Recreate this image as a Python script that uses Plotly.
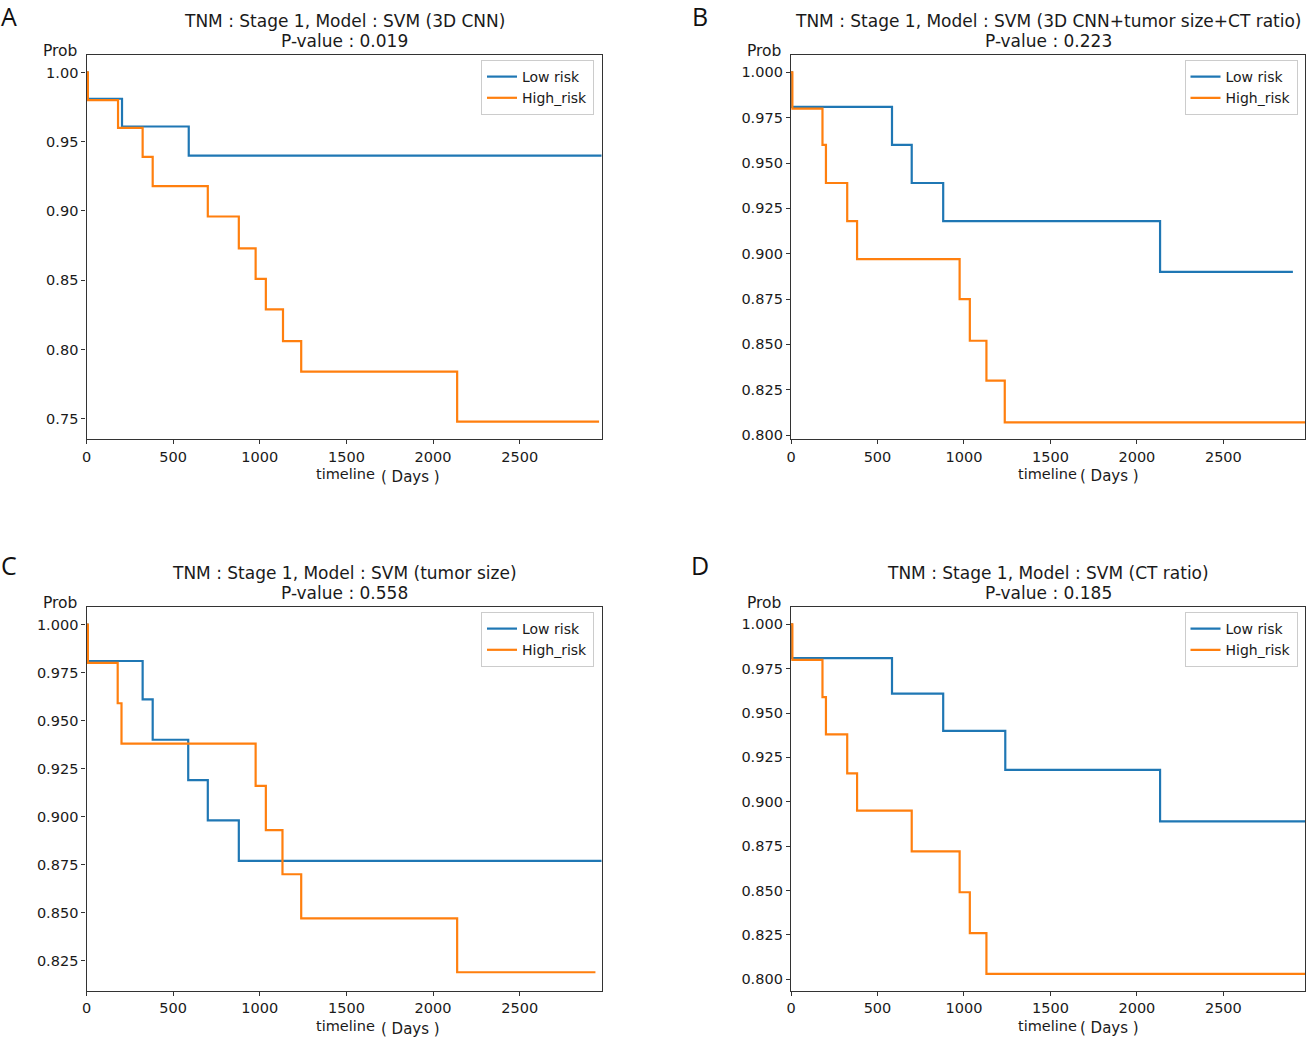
import plotly.graph_objects as go

W, H = 1307, 1038

# ---------------- data ----------------
titles = [
    "TNM : Stage 1, Model : SVM (3D CNN)",
    "TNM : Stage 1, Model : SVM (3D CNN+tumor size+CT ratio)",
    "TNM : Stage 1, Model : SVM (tumor size)",
    "TNM : Stage 1, Model : SVM (CT ratio)",
]
pvalues = ["0.019", "0.223", "0.558", "0.185"]
panel_letters = ["A", "B", "C", "D"]
series_names = ["Low risk", "High_risk"]

# Panel A
a_low_t = [0, 5, 205, 590, 2975]
a_low_s = [1.0, 0.981, 0.961, 0.940, 0.940]
a_high_t = [0, 8, 182, 324, 382, 700, 879, 976, 1035, 1134, 1239, 2139, 2958]
a_high_s = [1.0, 0.980, 0.960, 0.939, 0.918, 0.896, 0.873, 0.851, 0.829, 0.806, 0.784, 0.748, 0.748]

# Panel B
b_low_t = [0, 5, 584, 698, 880, 2134, 2902]
b_low_s = [1.0, 0.981, 0.960, 0.939, 0.918, 0.890, 0.890]
b_high_t = [0, 8, 182, 202, 325, 382, 975, 1034, 1130, 1236, 2975]
b_high_s = [1.0, 0.980, 0.960, 0.939, 0.918, 0.897, 0.875, 0.852, 0.830, 0.807, 0.807]

# Panel C
c_low_t = [0, 5, 324, 382, 587, 700, 879, 2975]
c_low_s = [1.0, 0.981, 0.961, 0.940, 0.919, 0.898, 0.877, 0.877]
c_high_t = [0, 8, 180, 202, 976, 1035, 1131, 1239, 2139, 2937]
c_high_s = [1.0, 0.980, 0.959, 0.938, 0.916, 0.893, 0.870, 0.847, 0.819, 0.819]

# Panel D
d_low_t = [0, 5, 584, 880, 1239, 2134, 2975]
d_low_s = [1.0, 0.981, 0.961, 0.940, 0.918, 0.889, 0.889]
d_high_t = [0, 8, 182, 202, 325, 382, 698, 975, 1034, 1130, 2975]
d_high_s = [1.0, 0.980, 0.959, 0.938, 0.916, 0.895, 0.872, 0.849, 0.826, 0.803, 0.803]

x_ticks = [0, 500, 1000, 1500, 2000, 2500]
y_dticks = [0.05, 0.025, 0.025, 0.025]
y_formats = [".2f", ".3f", ".3f", ".3f"]
y_ranges = [[0.7354, 1.0126], [0.7978, 1.0096], [0.8095, 1.0091], [0.7936, 1.0098]]
x_range = [0, 2972]

panels = [
    (a_low_t, a_low_s, a_high_t, a_high_s),
    (b_low_t, b_low_s, b_high_t, b_high_s),
    (c_low_t, c_low_s, c_high_t, c_high_s),
    (d_low_t, d_low_s, d_high_t, d_high_s),
]

# ---------------- layout geometry (pixels) ----------------
boxes = [  # left, right, top, bottom
    (86.5, 601.5, 55, 439),
    (791, 1305, 55, 439),
    (86.5, 601.5, 607, 990.5),
    (791, 1305, 607, 990.5),
]
colors = ["#1f77b4", "#ff7f0e"]
FONT = "DejaVu Sans"
TXT = "#1a1a1a"

def px(x, y):
    return x / W, 1 - y / H

fig = go.Figure()
layout = dict(
    template="none",
    width=W, height=H, margin=dict(l=0, r=0, t=0, b=0, pad=0, autoexpand=False),
    paper_bgcolor="white", plot_bgcolor="white",
    font=dict(family=FONT, size=14.5, color=TXT),
    annotations=[], showlegend=True,
)

def note(x, y, text, size, family=FONT, color=TXT):
    ax_, ay_ = px(x, y)
    layout["annotations"].append(dict(
        x=ax_, y=ay_, xref="paper", yref="paper", text=text, showarrow=False,
        xanchor="center", yanchor="middle", font=dict(family=family, size=size, color=color)))

for i, (lt, ls, ht, hs) in enumerate(panels):
    n = "" if i == 0 else str(i + 1)
    l, r, t, b = boxes[i]
    xa = dict(domain=[l / W, r / W], range=x_range, tickvals=x_ticks,
              ticks="outside", ticklen=4, tickwidth=1.2, tickcolor="#333", showline=True,
              linecolor="#333", linewidth=1.4, mirror=True, showgrid=False,
              zeroline=False, anchor="y" + n, automargin=False,
              tickfont=dict(family=FONT, size=14.5, color=TXT))
    ya = dict(domain=[1 - b / H, 1 - t / H], range=y_ranges[i], dtick=y_dticks[i],
              tick0=1.0, tickformat=y_formats[i], ticks="outside", ticklen=4, tickwidth=1.2,
              tickcolor="#333", showline=True, linecolor="#333", linewidth=1.4,
              mirror=True, showgrid=False, zeroline=False, anchor="x" + n, automargin=False,
              tickfont=dict(family=FONT, size=14.5, color=TXT))
    layout["xaxis" + n] = xa
    layout["yaxis" + n] = ya
    leg = "legend" + n
    for j, (tt, ss) in enumerate([(lt, ls), (ht, hs)]):
        fig.add_trace(go.Scatter(
            x=tt, y=ss, mode="lines", line=dict(color=colors[j], width=2.2, shape="hv"),
            name=series_names[j], xaxis="x" + n, yaxis="y" + n, legend=leg,
            cliponaxis=True, hoverinfo="skip"))
    lx, ly = px(r - 7.5, t + 5)
    layout[leg] = dict(x=lx, y=ly, xanchor="right", yanchor="top",
                       bgcolor="white", bordercolor="#cccccc", borderwidth=1,
                       font=dict(family=FONT, size=14, color=TXT),
                       itemwidth=30, tracegroupgap=0)
    cx = (l + r) / 2
    note(cx, t - 34, titles[i], 17)
    note(cx, t - 14, f"P-value : {pvalues[i]}", 17)
    note(l - 27, t - 4, "Prob", 15.5)
    # x-axis label: "timeline" centred under the axes, "( Days )" beside it
    if i in (0, 2):
        note(cx + 1, b + 35, "timeline", 14.5)
        note(cx + 66, b + 38, "( Days )", 15)
    else:
        note(cx - 0.5, b + 35, "timeline", 14.5)
        note(cx + 61, b + 37, "( Days )", 15)
    lxp = 9 if i in (0, 2) else 700
    lyp = 16 if i < 2 else 565
    note(lxp, lyp, panel_letters[i], 25, family="Open Sans", color="#111")

fig.update_layout(**layout)
fig.write_html(
    "out.html",
    config={"displayModeBar": False},
    post_script="document.body.style.margin='0';document.body.style.overflow='hidden';",
)
